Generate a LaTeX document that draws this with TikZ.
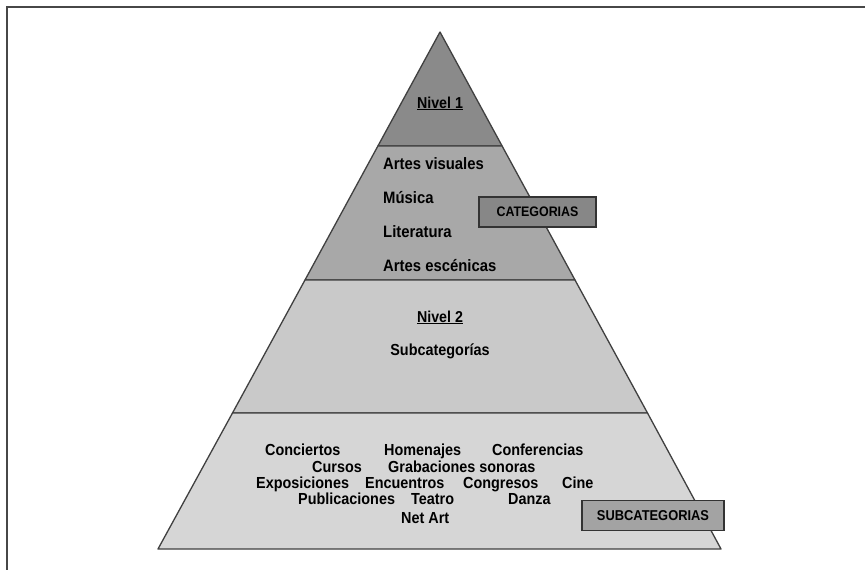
\documentclass[tikz,border=0pt]{standalone}
\usepackage{fontspec}
\setmainfont{Liberation Sans}[FakeStretch=0.9]
\begin{document}
\begin{tikzpicture}[x=1pt,y=-1pt,
  lbl/.style={inner sep=0pt, anchor=base west, font=\fontsize{16}{18}\selectfont\bfseries},
  cat/.style={inner sep=0pt, anchor=base west, font=\fontsize{16.5}{18}\selectfont\bfseries},
  lvl/.style={inner sep=0pt, anchor=base, font=\fontsize{15.8}{18}\selectfont\bfseries},
  tag/.style={draw=black!80, line width=1.2pt, minimum height=30pt, inner sep=0pt, font=\bfseries},
  tier/.style={draw=black!75, line width=1.3pt, line join=round}]
\useasboundingbox (0,0) rectangle (865,570);
\fill[white] (0,0) rectangle (865,570);
% frame
\draw[black!72, line width=2pt] (7,570) -- (7,7) -- (865,7);
% pyramid points
\coordinate (apex) at (440,32);
\coordinate (l1) at (377.9,146); \coordinate (r1) at (502.1,146);
\coordinate (l2) at (305.0,280); \coordinate (r2) at (575.0,280);
\coordinate (l3) at (232.5,413); \coordinate (r3) at (647.5,413);
\coordinate (bl) at (158,549);   \coordinate (br) at (721,549);
% tiers
\filldraw[tier, fill=black!46] (apex) -- (r1) -- (l1) -- cycle;
\filldraw[tier, fill=black!34] (l1) -- (r1) -- (r2) -- (l2) -- cycle;
\filldraw[tier, fill=black!21] (l2) -- (r2) -- (r3) -- (l3) -- cycle;
\filldraw[tier, fill=black!16] (l3) -- (r3) -- (br) -- (bl) -- cycle;
% level 1
\node[lvl] (n1) at (440,108) {\underline{Nivel 1}};
\node[cat] (c1) at (383,169) {Artes visuales};
\node[cat] (c2) at (383,203) {Música};
\node[cat] (c3) at (383,237) {Literatura};
\node[cat] (c4) at (383,271) {Artes escénicas};
\node[tag, fill=black!47, minimum width=117pt, font=\fontsize{13.8}{15}\selectfont\bfseries] (cats) at (537.5,212) {CATEGORIAS};
% level 2
\node[lvl] (n2) at (440,322) {\underline{Nivel 2}};
\node[lvl, font=\fontsize{16}{18}\selectfont\bfseries] (sub) at (440,355) {Subcategorías};
% subcategories
\node[lbl] (s1) at (265,455) {Conciertos};
\node[lbl] (s2) at (384,455) {Homenajes};
\node[lbl] (s3) at (492,455) {Conferencias};
\node[lbl] (s4) at (312,472) {Cursos};
\node[lbl] (s5) at (388,472) {Grabaciones sonoras};
\node[lbl] (s6) at (256,488) {Exposiciones};
\node[lbl] (s7) at (365,488) {Encuentros};
\node[lbl] (s8) at (463,488) {Congresos};
\node[lbl] (s9) at (562,488) {Cine};
\node[lbl] (s10) at (298,504) {Publicaciones};
\node[lbl] (s11) at (411,504) {Teatro};
\node[lbl] (s12) at (508,504) {Danza};
\node[lbl] (s13) at (401,523) {Net Art};
\node[tag, fill=black!36, minimum width=142pt, font=\fontsize{14.3}{16}\selectfont\bfseries] (subs) at (653,515.5) {SUBCATEGORIAS};
\end{tikzpicture}
\end{document}
